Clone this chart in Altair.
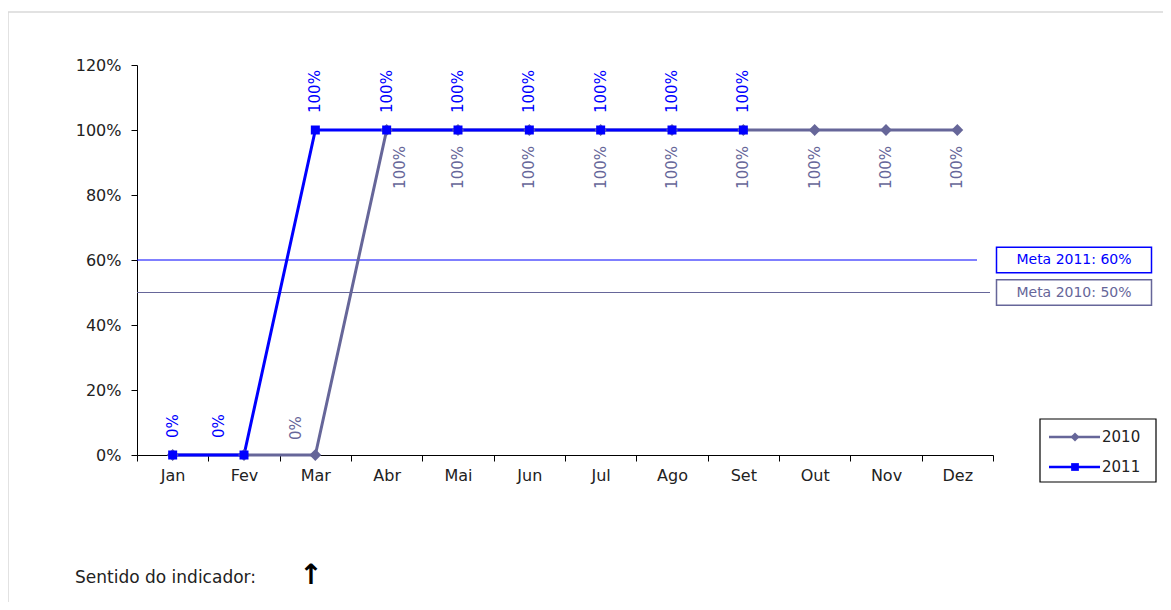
import altair as alt
import pandas as pd

months = ["Jan", "Fev", "Mar", "Abr", "Mai", "Jun", "Jul", "Ago", "Set", "Out", "Nov", "Dez"]
series = ["2010", "2011"]
series_colors = ["#666699", "#0000FF"]
series_shapes = ["diamond", "square"]
values_2010 = [0, 0, 0, 1, 1, 1, 1, 1, 1, 1, 1, 1]
values_2011 = [0, 0, 1, 1, 1, 1, 1, 1, 1, None, None, None]
labels_2010 = [None, None, "0%", "100%", "100%", "100%", "100%", "100%", "100%", "100%", "100%", "100%"]
labels_2011 = ["0%", "0%", "100%", "100%", "100%", "100%", "100%", "100%", "100%", None, None, None]
meta_texts = ["Meta 2011: 60%", "Meta 2010: 50%"]
meta_values = [0.6, 0.5]
meta_colors = ["#0000FF", "#666699"]
y_ticks = [0, 0.2, 0.4, 0.6, 0.8, 1.0, 1.2]
footer_text = "Sentido do indicador:"
footer_arrow = "↑"

FONT = "DejaVu Sans"

rows = []
for s, vals, labs in [("2010", values_2010, labels_2010), ("2011", values_2011, labels_2011)]:
    for m, v, l in zip(months, vals, labs):
        if v is None:
            continue
        rows.append({"month": m, "series": s, "value": v, "label": l})
df = pd.DataFrame(rows)

color_scale = alt.Scale(domain=series, range=series_colors)
x_enc = alt.X("month:N", sort=months,
              scale=alt.Scale(type="band", paddingInner=0, paddingOuter=0),
              axis=alt.Axis(title=None, labelAngle=0, tickBand="extent", tickSize=6,
                            labelPadding=6, grid=False, domainColor="black", tickColor="black",
                            labelFont=FONT, labelFontSize=16, labelColor="#222"))
y_enc = alt.Y("value:Q", scale=alt.Scale(domain=[0, 1.2], nice=False),
              axis=alt.Axis(title=None, values=y_ticks, format=".0%", tickSize=6,
                            labelPadding=10, grid=False, domainColor="black", tickColor="black",
                            labelFont=FONT, labelFontSize=16, labelColor="#222"))

base = alt.Chart(df)
one = alt.Data(values=[{}])

# outer frame
frame = alt.Chart(one).mark_rect(fill=None, stroke="#d9d9d9", strokeWidth=1.5).encode(
    x=alt.value(-129), x2=alt.value(1033), y=alt.value(-53), y2=alt.value(570))

meta_layers = []
for txt, val, col, lineend in zip(meta_texts, meta_values, meta_colors, [840, 853]):
    mdata = alt.Data(values=[{"value": val, "text": txt}])
    meta_layers.append(alt.Chart(mdata).mark_rule(color=col, strokeWidth=1).encode(
        y="value:Q", x=alt.value(0), x2=alt.value(lineend)))
    meta_layers.append(alt.Chart(mdata).mark_point(
        shape="M-1,-0.165H1V0.165H-1Z", size=24025, filled=True, fill="white",
        stroke=col, strokeWidth=1.5, opacity=1).encode(y="value:Q", x=alt.value(937)))
    meta_layers.append(alt.Chart(mdata).mark_text(
        color=col, font=FONT, fontSize=14, align="center", baseline="middle").encode(
        y="value:Q", x=alt.value(937), text="text:N"))

lines = base.mark_line(strokeWidth=3).encode(
    x=x_enc, y=y_enc, color=alt.Color("series:N", scale=color_scale, legend=None))

points = base.mark_point(filled=True, opacity=1).encode(
    x=x_enc, y=y_enc,
    color=alt.Color("series:N", scale=color_scale, legend=None),
    shape=alt.Shape("series:N", scale=alt.Scale(domain=series, range=series_shapes), legend=None),
    size=alt.Size("series:N", scale=alt.Scale(domain=series, range=[140, 81]), legend=None))


def label_layer(expr, align, dx, dy=0):
    return base.transform_filter(expr).mark_text(
        angle=270, align=align, baseline="middle", dx=dx, dy=dy, font=FONT, fontSize=15
    ).encode(x=x_enc, y=y_enc, text="label:N",
             color=alt.Color("series:N", scale=color_scale, legend=None))


label_layers = [
    # 2011 labels above the points
    label_layer("datum.label != null && datum.series == '2011' && datum.month != 'Fev'", "left", 17),
    label_layer("datum.label != null && datum.series == '2011' && datum.month == 'Fev'", "left", 17, -25),
    # 2010 labels: 0% above (nudged left off the line), 100% below
    label_layer("datum.label != null && datum.series == '2010' && datum.value == 0", "left", 15, -19),
    label_layer("datum.label != null && datum.series == '2010' && datum.value > 0 && datum.month != 'Abr'", "right", -16),
    label_layer("datum.label != null && datum.series == '2010' && datum.value > 0 && datum.month == 'Abr'", "right", -16, 13),
]

# custom legend box (line + marker + label per series)
legend_layers = [alt.Chart(one).mark_rect(fill="white", stroke="black", strokeWidth=1.2).encode(
    x=alt.value(903), x2=alt.value(1019), y=alt.value(354), y2=alt.value(417))]
for i, (s, col, shp) in enumerate(zip(series, series_colors, series_shapes)):
    yy = 372 + 30 * i
    ldata = alt.Data(values=[{"s": s}])
    legend_layers.append(alt.Chart(ldata).mark_rule(color=col, strokeWidth=2.5).encode(
        x=alt.value(912), x2=alt.value(963), y=alt.value(yy)))
    legend_layers.append(alt.Chart(ldata).mark_point(shape=shp, filled=True, color=col, opacity=1,
                                                     size=80 if shp == "diamond" else 60).encode(
        x=alt.value(938), y=alt.value(yy)))
    legend_layers.append(alt.Chart(ldata).mark_text(align="left", baseline="middle", font=FONT,
                                                    fontSize=15, color="#222").encode(
        x=alt.value(965), y=alt.value(yy), text="s:N"))

fdata = alt.Data(values=[{"t": footer_text, "a": footer_arrow}])
footer = alt.Chart(fdata).mark_text(align="left", baseline="middle", font=FONT, fontSize=17,
                                    color="#222").encode(
    x=alt.value(-62), y=alt.value(513), text="t:N")
arrow = alt.Chart(fdata).mark_text(align="center", baseline="middle", font=FONT, fontSize=28,
                                   fontWeight="bold", color="black").encode(
    x=alt.value(174), y=alt.value(511), text="a:N")

chart = alt.layer(frame, *meta_layers, lines, points, *label_layers,
                  *legend_layers, footer, arrow).properties(
    width=856, height=390,
    autosize=alt.AutoSizeParams(type="none"),
    padding={"left": 129, "top": 57, "right": 170, "bottom": 147},
).configure_view(stroke=None)

chart.save("out.html", embed_options={"renderer": "svg", "actions": False})
